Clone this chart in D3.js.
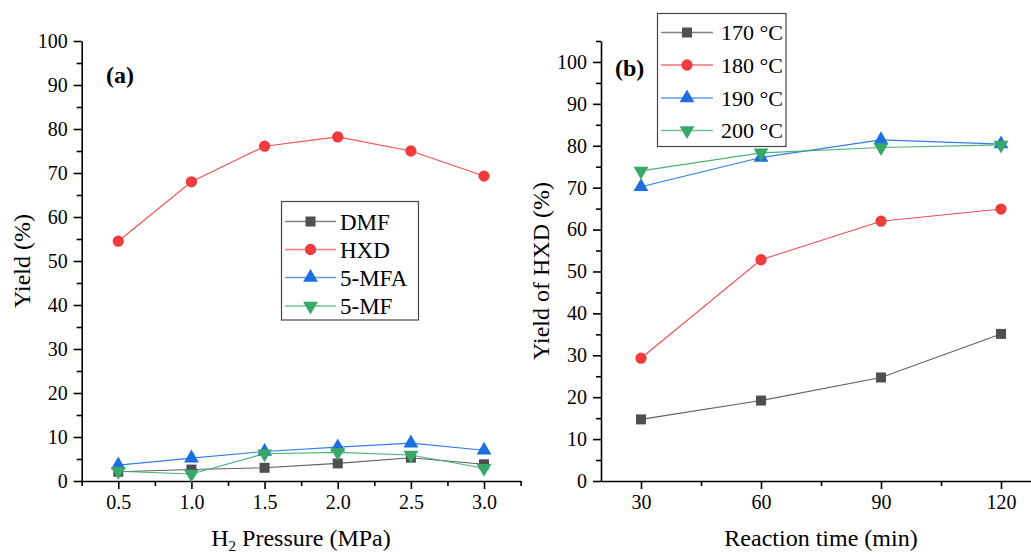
<!DOCTYPE html>
<html><head><meta charset="utf-8">
<script src="https://cdn.jsdelivr.net/npm/d3@7"></script>
<style>body{margin:0;background:#fff}svg{display:block}text{font-family:"Liberation Serif","Times New Roman",serif}</style>
</head><body><svg id="c" width="1031" height="554"></svg>
<script>
// ---- data ----
const pressure = [0.5, 1.0, 1.5, 2.0, 2.5, 3.0];
const dmfA  = [2.1, 2.6, 3.0, 4.0, 5.3, 3.8];
const hxdA  = [54.5, 68.0, 76.1, 78.2, 75.0, 69.3];
const mfaA  = [3.6, 5.2, 6.7, 7.7, 8.6, 7.0];
const mfA   = [2.2, 1.6, 6.2, 6.5, 5.9, 2.9];
const seriesNamesA = ["DMF", "HXD", "5-MFA", "5-MF"];

const times = [30, 60, 90, 120];
const t170 = [14.7, 19.2, 24.7, 35.1];
const t180 = [29.3, 52.8, 62.0, 64.9];
const t190 = [70.2, 77.2, 81.4, 80.4];
const t200 = [74.0, 78.3, 79.6, 80.2];
const seriesNamesB = ["170 °C", "180 °C", "190 °C", "200 °C"];

const yTicksA = [0,10,20,30,40,50,60,70,80,90,100];
const xTicksA = [0.5,1.0,1.5,2.0,2.5,3.0];
const yTicksB = [0,10,20,30,40,50,60,70,80,90,100];
const xTicksB = [30,60,90,120];

// ---- styles ----
const colors = ["#4f4f4f", "#f03c3c", "#1c6fe0", "#38a868"];
const shapes = [d3.symbolSquare, d3.symbolCircle, d3.symbolTriangle, "down"];
const FONT = '"Liberation Serif","Times New Roman",serif';

const svg = d3.select("#c");

function marker(g, shapeIdx, x, y, color) {
  if (shapes[shapeIdx] === "down") {
    g.append("path").attr("d", d3.symbol(d3.symbolTriangle, 95)())
      .attr("transform", `translate(${x},${y}) rotate(180)`).attr("fill", color);
  } else {
    const size = shapeIdx === 2 ? 95 : 100;
    g.append("path").attr("d", d3.symbol(shapes[shapeIdx], size)())
      .attr("transform", `translate(${x},${y})`).attr("fill", color);
  }
}

function styleAxis(g) {
  g.attr("font-family", FONT).attr("font-size", 20);
  g.selectAll("path.domain").attr("stroke", "#000").attr("stroke-width", 1.6);
  g.selectAll(".tick line").attr("stroke", "#000").attr("stroke-width", 1.6);
  g.selectAll(".tick text").attr("fill", "#000");
}

function panel(cfg) {
  const g = svg.append("g");
  const x = d3.scaleLinear().domain(cfg.xDomain).range(cfg.xRange);
  const y = d3.scaleLinear().domain(cfg.yDomain).range([481, 41]);
  const gxm = g.append("g").attr("transform", "translate(0,481)")
    .call(d3.axisBottom(x).tickValues(cfg.xMinor).tickSize(5).tickFormat(""));
  const gym = g.append("g").attr("transform", `translate(${cfg.xRange[0]},0)`)
    .call(d3.axisLeft(y).tickValues(cfg.yMinor).tickSize(5).tickFormat(""));
  [gxm, gym].forEach(styleAxis);
  gxm.select("path.domain").remove(); gym.select("path.domain").remove();
  const gx = g.append("g").attr("transform", "translate(0,481)")
    .call(d3.axisBottom(x).tickValues(cfg.xTicks).tickSize(8).tickSizeOuter(0).tickPadding(6).tickFormat(cfg.xFmt));
  const gy = g.append("g").attr("transform", `translate(${cfg.xRange[0]},0)`)
    .call(d3.axisLeft(y).tickValues(cfg.yTicks).tickSize(8).tickSizeOuter(0).tickPadding(6).tickFormat(d3.format("d")));
  styleAxis(gx); styleAxis(gy);

  const line = d3.line().x((d) => x(d[0])).y((d) => y(d[1]));
  cfg.series.forEach((s, i) => {
    const pts = cfg.xs.map((v, j) => [v, s[j]]);
    g.append("path").attr("d", line(pts)).attr("fill", "none")
      .attr("stroke", colors[i]).attr("stroke-width", 1.1).attr("stroke-opacity", 0.9);
    pts.forEach(p => marker(g, i, x(p[0]), y(p[1]), colors[i]));
  });
  return {g, x, y};
}

panel({
  xDomain: [0.25, 3.25], xRange: [81.7, 520.6], yDomain: [0, 100],
  xTicks: xTicksA, xMinor: [0.25,0.75,1.25,1.75,2.25,2.75,3.25], yTicks: yTicksA,
  yMinor: d3.range(5, 100, 10), xFmt: d3.format(".1f"),
  xs: pressure, series: [dmfA, hxdA, mfaA, mfA]
});
panel({
  xDomain: [20, 130], xRange: [601, 1041], yDomain: [0, 105],
  xTicks: xTicksB, xMinor: [45, 75, 105], yTicks: yTicksB,
  yMinor: d3.range(5, 106, 10), xFmt: d3.format("d"),
  xs: times, series: [t170, t180, t190, t200]
});

// panel labels
svg.append("text").attr("x", 106).attr("y", 83).attr("font-size", 24).attr("font-weight", "bold").text("(a)");
svg.append("text").attr("x", 615).attr("y", 76).attr("font-size", 24).attr("font-weight", "bold").text("(b)");

// axis titles
const tA = svg.append("text").attr("x", 301).attr("y", 546).attr("text-anchor", "middle").attr("font-size", 24);
tA.append("tspan").text("H");
tA.append("tspan").attr("font-size", 15).attr("dy", 5).text("2");
tA.append("tspan").attr("dy", -5).text(" Pressure (MPa)");
svg.append("text").attr("x", 821).attr("y", 546).attr("text-anchor", "middle").attr("font-size", 24).text("Reaction time (min)");
svg.append("text").attr("transform", "translate(30,261) rotate(-90)").attr("text-anchor", "middle").attr("font-size", 24).text("Yield (%)");
svg.append("text").attr("transform", "translate(549,271) rotate(-90)").attr("text-anchor", "middle").attr("font-size", 24).text("Yield of HXD (%)");

// legends
function legend(x0, y0, w, h, rowY, lineX1, lineX2, textX, names, fs) {
  const g = svg.append("g");
  g.append("rect").attr("x", x0).attr("y", y0).attr("width", w).attr("height", h)
    .attr("fill", "#fff").attr("stroke", "#444").attr("stroke-width", 1.2);
  names.forEach((n, i) => {
    const yy = rowY[i];
    g.append("line").attr("x1", lineX1).attr("x2", lineX2).attr("y1", yy).attr("y2", yy)
      .attr("stroke", colors[i]).attr("stroke-width", 1.3).attr("stroke-opacity", 0.7);
    marker(g, i, (lineX1 + lineX2) / 2, yy, colors[i]);
    g.append("text").attr("x", textX).attr("y", yy).attr("dy", "0.35em").attr("font-size", fs).text(n);
  });
}
legend(281.5, 201.5, 137, 118.5, [221.5, 249.5, 277.5, 306], 285, 336, 340, seriesNamesA, 23);
legend(657.5, 13.5, 128.5, 133, [32.5, 65, 98, 130.5], 661, 713, 721, seriesNamesB, 22);
</script></body></html>
